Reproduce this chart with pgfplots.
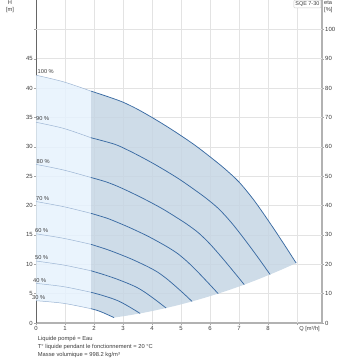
\documentclass[border=0pt]{standalone}
\usepackage{pgfplots}
\pgfplotsset{compat=1.18}
\usepackage{fontspec}
\setmainfont{Liberation Sans}
\definecolor{darkfill}{HTML}{C6D6E4}
\definecolor{lightfill}{HTML}{E6F2FD}
\definecolor{curvedark}{HTML}{3A6BA3}
\definecolor{curvelight}{HTML}{9DB5D3}
\definecolor{txt}{HTML}{3C3C3C}
\begin{document}
\begin{tikzpicture}
\useasboundingbox (-36bp,-37bp) rectangle (324bp,323bp);
% right (eta) axis
\begin{axis}[at={(0,0)}, anchor=south west, scale only axis,
  width=286bp, height=323bp,
  xmin=0, xmax=9.86, ymin=0, ymax=110,
  axis x line=none, axis y line*=right,
  axis line style={-, draw=gray!60, line width=1.3bp},
  ytick={0,10,...,100},
  tick align=outside, major tick length=2bp,
  tick style={draw=gray!70, line width=0.4bp},
  /pgf/number format/assume math mode=true,
  yticklabel style={font=\fontsize{6}{7}\selectfont, text=txt, inner sep=1bp},
]
\end{axis}
% main axis
\begin{axis}[at={(0,0)}, anchor=south west, scale only axis,
  width=286bp, height=323bp,
  xmin=0, xmax=9.86, ymin=0, ymax=55,
  axis x line*=bottom, axis y line*=left,
  x axis line style={-, draw=gray!60, line width=1.3bp},
  y axis line style={-, draw=gray!80!black, line width=0.6bp},
  xtick={0,...,8}, extra x ticks={9}, extra x tick labels={},
  ytick={0,5,...,45}, extra y ticks={50}, extra y tick labels={},
  grid=major, extra tick style={grid=major},
  grid style={draw=gray!22, line width=0.5bp},
  tick align=outside, major tick length=2bp,
  tick style={draw=gray!70, line width=0.4bp},
  /pgf/number format/assume math mode=true,
  ticklabel style={font=\fontsize{6}{7}\selectfont, text=txt, inner sep=1bp},
  clip=false,
]
% light region
\addplot[draw=none, fill=lightfill, fill opacity=0.85] coordinates {
 (0,42.2) (0.95,41.07) (1.9,39.48) (1.9,2.43) (0.95,3.35) (0,3.80)} -- cycle;
% dark region
\addplot[draw=none, fill=darkfill, fill opacity=0.85] coordinates {
 (1.9,39.48) (2.5,38.5) (3,37.6) (3.5,36.4) (4,35.0) (4.5,33.5) (5,31.9) (5.5,30.2)
 (6,28.3) (6.5,26.3) (7,24.0) (7.5,21.0) (8,17.5) (8.5,13.8) (8.97,10.2)
 (8.5,9.16) (8.07,8.26) (7.6,7.32) (7.18,6.53) (6.7,5.69) (6.28,5.0) (5.8,4.27)
 (5.38,3.67) (4.9,3.04) (4.485,2.55) (4.0,2.03) (3.588,1.63) (3.1,1.22) (2.691,0.918)
 (2.55,1.24) (2.4,1.575) (2.25,1.89) (2.1,2.16) (1.9,2.43)} -- cycle;
% light parts of curves
\pgfplotsset{lt/.style={curvelight, line width=0.5bp, smooth}, dk/.style={curvedark, line width=0.75bp, smooth}}
\addplot[lt] coordinates {(0,42.2) (0.95,41.07) (1.9,39.48)};
\addplot[lt] coordinates {(0,34.18) (0.95,33.14) (1.9,31.54)};
\addplot[lt] coordinates {(0,27.01) (0.95,26.05) (1.9,24.77)};
\addplot[lt] coordinates {(0,20.68) (0.95,19.81) (1.9,18.67)};
\addplot[lt] coordinates {(0,15.19) (0.95,14.42) (1.9,13.39)};
\addplot[lt] coordinates {(0,10.55) (0.95,9.87) (1.9,8.89)};
\addplot[lt] coordinates {(0,6.75) (0.95,6.19) (1.9,5.23)};
\addplot[lt] coordinates {(0,3.80) (0.95,3.35) (1.9,2.43)};
% dark parts
\addplot[dk] coordinates {(1.9,39.48) (2.5,38.5) (3,37.6) (3.5,36.4) (4,35.0) (4.5,33.5) (5,31.9) (5.5,30.2) (6,28.3) (6.5,26.3) (7,24.0) (7.5,21.0) (8,17.5) (8.5,13.8) (8.97,10.2)};
\addplot[dk] coordinates {(1.9,31.54) (2.7,30.46) (3.15,29.48) (3.6,28.35) (4.05,27.14) (4.5,25.84) (4.95,24.46) (5.4,22.92) (5.85,21.30) (6.3,19.44) (6.75,17.01) (7.2,14.18) (7.65,11.18) (8.07,8.26)};
\addplot[dk] coordinates {(1.9,24.77) (2.4,24.06) (2.8,23.30) (3.2,22.40) (3.6,21.44) (4.0,20.42) (4.4,19.33) (4.8,18.11) (5.2,16.83) (5.6,15.36) (6.0,13.44) (6.4,11.2) (6.8,8.83) (7.18,6.53)};
\addplot[dk] coordinates {(1.9,18.67) (2.45,17.84) (2.8,17.15) (3.15,16.42) (3.5,15.63) (3.85,14.80) (4.2,13.87) (4.55,12.89) (4.9,11.76) (5.25,10.29) (5.6,8.58) (5.95,6.76) (6.28,5.0)};
\addplot[dk] coordinates {(1.9,13.39) (2.4,12.6) (2.7,12.06) (3.0,11.48) (3.3,10.87) (3.6,10.19) (3.9,9.47) (4.2,8.64) (4.5,7.56) (4.8,6.3) (5.1,4.97) (5.38,3.67)};
\addplot[dk] coordinates {(1.9,8.89) (2.25,8.375) (2.5,7.975) (2.75,7.55) (3.0,7.075) (3.25,6.575) (3.5,6.0) (3.75,5.25) (4.0,4.375) (4.25,3.45) (4.485,2.55)};
\addplot[dk] coordinates {(1.9,5.23) (2.2,4.83) (2.4,4.53) (2.6,4.21) (2.8,3.84) (3.0,3.36) (3.2,2.8) (3.4,2.21) (3.588,1.63)};
\addplot[dk] coordinates {(1.9,2.43) (2.1,2.16) (2.25,1.89) (2.4,1.575) (2.55,1.24) (2.691,0.918)};
% speed labels
\tikzset{pl/.style={anchor=base west, inner sep=0pt, font=\fontsize{5.7}{6.5}\selectfont, text=txt}}
\node[pl, xshift=1.5bp] at (axis cs:0,42.4) {100 \%};
\node[pl, xshift=0bp] at (axis cs:0,34.4) {90 \%};
\node[pl, xshift=0.5bp] at (axis cs:0,27.2) {80 \%};
\node[pl, xshift=0bp] at (axis cs:0,20.9) {70 \%};
\node[pl, xshift=-1bp] at (axis cs:0,15.4) {60 \%};
\node[pl, xshift=-1bp] at (axis cs:0,10.8) {50 \%};
\node[pl, xshift=-3bp] at (axis cs:0,6.95) {40 \%};
\node[pl, xshift=-4bp] at (axis cs:0,4.0) {30 \%};
% axis titles
\node[anchor=north, inner sep=0pt, align=center, font=\fontsize{5.7}{7}\selectfont, text=txt] at ([xshift=-26bp, yshift=-0.8bp]rel axis cs:0,1) {H\\{}[m]};
\node[anchor=north west, inner sep=0pt, align=left, font=\fontsize{5.7}{7}\selectfont, text=txt] at ([xshift=2bp, yshift=-0.8bp]rel axis cs:1,1) {eta\\{}[\%]};
\node[anchor=west, inner sep=0pt, font=\fontsize{5.7}{6.5}\selectfont, text=txt] at ([xshift=2bp, yshift=-6bp]axis cs:9,0) {Q [m³/h]};
\node[anchor=north east, draw=gray!40, fill=white, rounded corners=0.8bp, inner sep=1.4bp, font=\fontsize{5.5}{6.5}\selectfont, text=txt] at ([xshift=-1bp, yshift=0bp]rel axis cs:1,1) {SQE 7-30};
\node[anchor=north west, inner sep=0pt, align=left, font=\fontsize{5.8}{7.8}\selectfont, text=txt] at ([xshift=1.7bp, yshift=-13.5bp]rel axis cs:0,0) {Liquide pompé = Eau\\T° liquide pendant le fonctionnement = 20 °C\\Masse volumique = 998.2 kg/m³};
\end{axis}
\end{tikzpicture}
\end{document}
